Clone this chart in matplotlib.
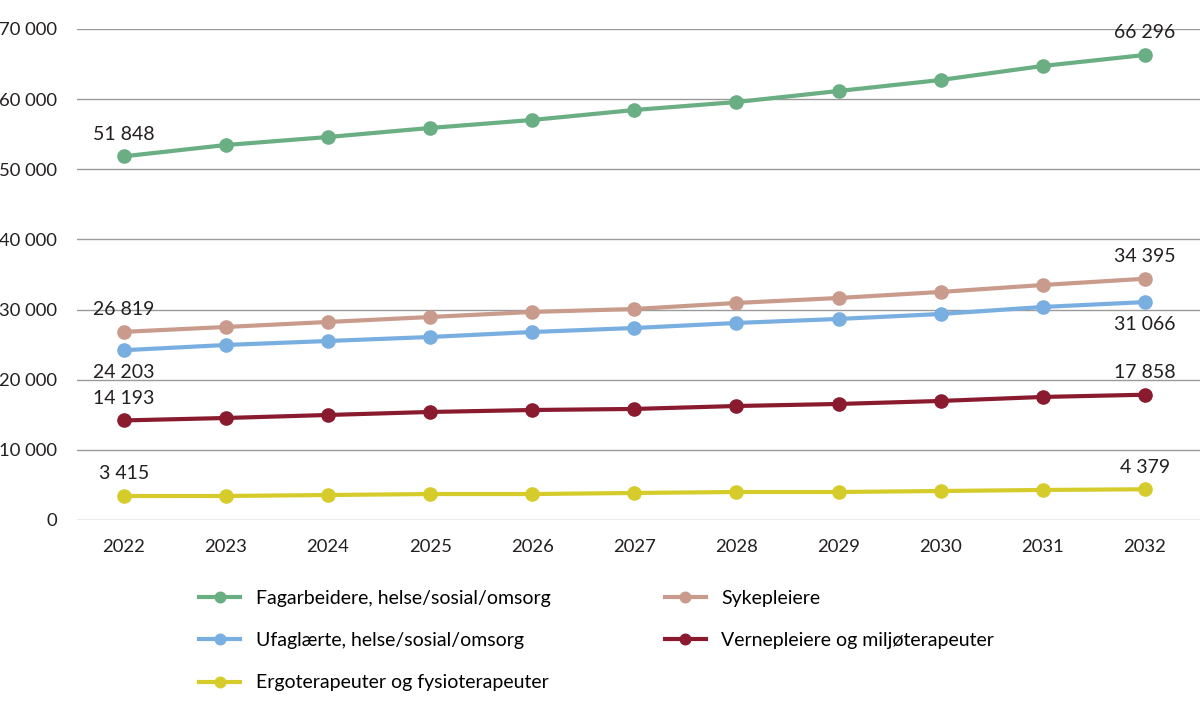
import numpy as np
import matplotlib.pyplot as plt

plt.rcParams['font.family'] = ['Lato', 'DejaVu Sans']

years = list(range(2022, 2033))

fagarbeidere = [51848, 53460, 54600, 55890, 57030, 58450, 59590, 61160, 62730, 64730, 66296]
sykepleiere = [26819, 27520, 28230, 28940, 29660, 30080, 30940, 31650, 32510, 33500, 34395]
ufaglaerte = [24203, 24950, 25520, 26090, 26800, 27370, 28090, 28660, 29370, 30370, 31066]
vernepleiere = [14193, 14540, 14970, 15400, 15680, 15830, 16250, 16540, 16970, 17540, 17858]
ergoterapeuter = [3415, 3420, 3560, 3700, 3700, 3850, 3990, 3990, 4130, 4280, 4379]

series = [
    ("Fagarbeidere, helse/sosial/omsorg", fagarbeidere, "#6aae83", "above"),
    ("Sykepleiere", sykepleiere, "#c99b8c", "above"),
    ("Ufaglærte, helse/sosial/omsorg", ufaglaerte, "#79aee0", "below"),
    ("Vernepleiere og miljøterapeuter", vernepleiere, "#8a1b2f", "above"),
    ("Ergoterapeuter og fysioterapeuter", ergoterapeuter, "#d5cc2c", "above"),
]

txtcol = '#231f20'


def fmt(v):
    # norwegian thousands separator
    return f"{v:,}".replace(",", " ")


fig = plt.figure(figsize=(12, 7.09), dpi=100)
ax = fig.add_axes([0.064, 0.2666, 0.936, 0.6925])

x = np.arange(len(years))
for name, vals, col, pos in series:
    ax.plot(x, vals, color=col, lw=3, marker='o', ms=9.5, label=name, zorder=3)
    dy = 16 if pos == "above" else -16
    for i in (0, len(vals) - 1):
        ax.annotate(fmt(vals[i]), (x[i], vals[i]), xytext=(0, dy),
                    textcoords='offset points', ha='center', va='center',
                    fontsize=14, color=txtcol)

ax.set_xlim(-0.46, 10.54)
ax.set_ylim(0, 70000)
ax.set_yticks(range(0, 70001, 10000))
ax.set_yticklabels([fmt(v) for v in range(0, 70001, 10000)])
ax.set_xticks(x)
ax.set_xticklabels([str(y) for y in years])
ax.grid(axis='y', color='#9a9a9a', lw=1)
ax.set_axisbelow(True)
for s in ax.spines.values():
    s.set_visible(False)
ax.tick_params(length=0, labelsize=13.3, colors=txtcol)
ax.tick_params(axis='y', pad=14)
ax.tick_params(axis='x', pad=14)

handles, labels = ax.get_legend_handles_labels()
order = [0, 2, 4, 1, 3]
leg = fig.legend([handles[i] for i in order], [labels[i] for i in order],
                 ncol=2, loc='upper left', bbox_to_anchor=(0.166, 0.168),
                 frameon=False, fontsize=14, handlelength=2.1,
                 handletextpad=0.8, columnspacing=5.9, labelspacing=1.3,
                 borderpad=0, borderaxespad=0, markerscale=0.8)

fig.savefig("out.png", dpi=100)
